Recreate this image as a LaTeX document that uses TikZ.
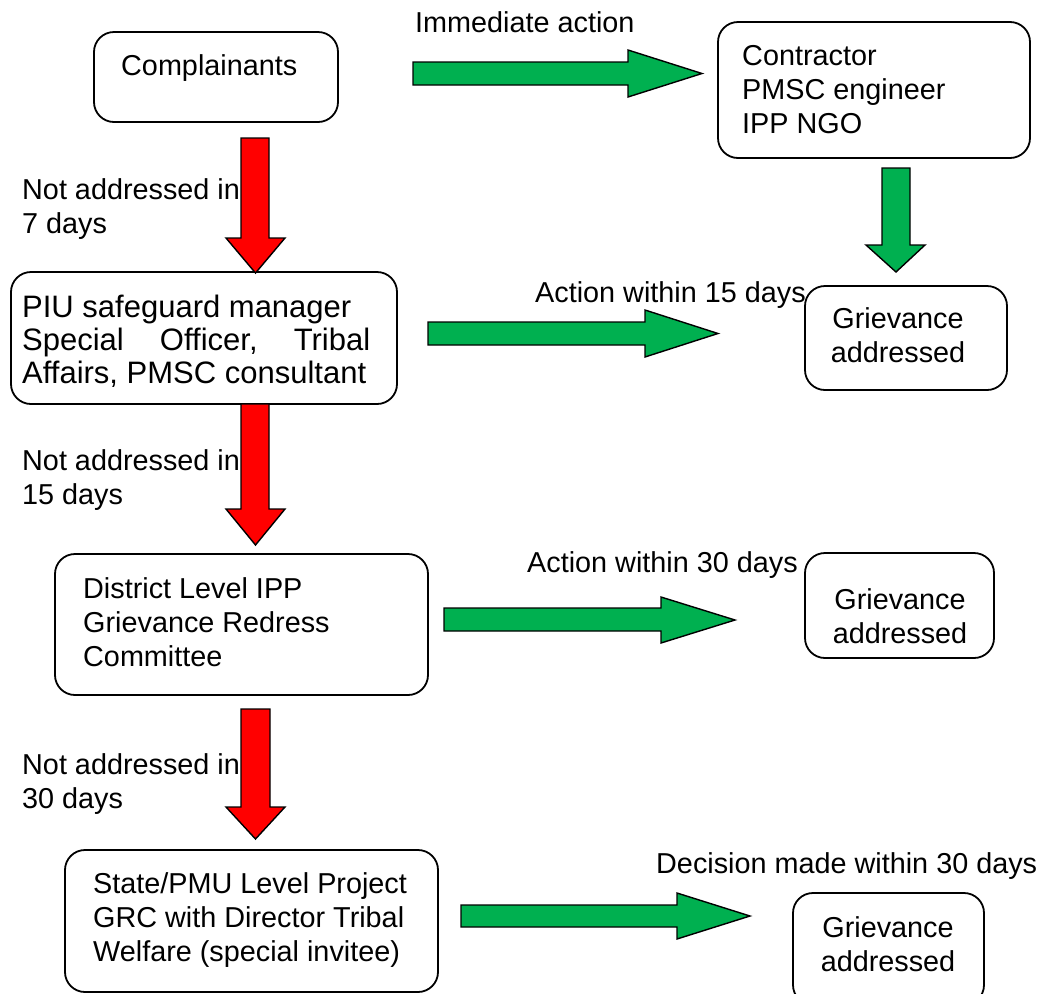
\documentclass[tikz,border=0pt]{standalone}
\usepackage{fontspec}
\setmainfont{Liberation Sans}
\definecolor{arrowgreen}{HTML}{00B050}
\definecolor{arrowred}{HTML}{FF0000}
\begin{document}
\begin{tikzpicture}[x=1pt,y=-1pt,
  box/.style={draw=black, fill=white, line width=1.8pt, rounded corners=20pt, inner sep=0pt},
  % multi-line texts are placed by the baseline of their last line
  txt/.style={font=\fontsize{28.8}{34}\selectfont, inner sep=0pt, align=left, anchor=base west},
  ctxt/.style={font=\fontsize{28.8}{34}\selectfont, inner sep=0pt, align=center, anchor=base},
  garrow/.style={fill=arrowgreen, draw=black, line width=1.4pt, line join=miter},
  rarrow/.style={fill=arrowred, draw=black, line width=1.4pt, line join=miter}]
\useasboundingbox (0,0) rectangle (1045,994);

% labels beside the arrows (drawn first, boxes and arrows overlap them)
\node[txt] (lab1) at (22,233) {Not addressed in\\7 days};
\node[txt] (lab2) at (22,504) {Not addressed in\\15 days};
\node[txt] (lab3) at (22,808) {Not addressed in\\30 days};
\node[txt] (act0) at (415,32) {Immediate action};
\node[txt] (act1) at (535,302) {Action within 15 days};
\node[txt] (act2) at (527,572) {Action within 30 days};
\node[txt] (act3) at (656,873) {Decision made within 30 days};

% boxes
\node[box, minimum width=244pt, minimum height=90pt] (cmp) at (216,77) {};
\node[box, minimum width=312pt, minimum height=136pt] (ctr) at (874,90) {};
\node[box, minimum width=386pt, minimum height=132pt] (piu) at (204,338) {};
\node[box, minimum width=202pt, minimum height=104pt] (g1) at (906,338) {};
\node[box, minimum width=373pt, minimum height=141pt] (dis) at (241.5,624.5) {};
\node[box, minimum width=189pt, minimum height=105pt] (g2) at (899.5,605.5) {};
\node[box, minimum width=373pt, minimum height=142pt] (sta) at (251.5,921) {};
\node[box, minimum width=191pt, minimum height=112pt] (g3) at (888.5,949) {};

% box texts
\node[txt] (cmpt) at (121,75) {Complainants};
\node[txt] (ctrt) at (742,133) {Contractor\\PMSC engineer\\IPP NGO};
\node[txt, font=\fontsize{31}{33}\selectfont] (piut) at (22,383)
  {PIU safeguard manager\\\hbox to 348pt{Special\hfill\ Officer,\hfill\ Tribal}\\Affairs, PMSC consultant};
\node[ctxt] (g1t) at (898,362) {Grievance\\addressed};
\node[txt] (dist) at (83,666) {District Level IPP\\Grievance Redress\\Committee};
\node[ctxt] (g2t) at (900,643) {Grievance\\addressed};
\node[txt] (stat) at (93,961) {State/PMU Level Project\\GRC with Director Tribal\\Welfare (special invitee)};
\node[ctxt] (g3t) at (888,971) {Grievance\\addressed};

% green block arrows
\draw[garrow] (413,62) -- (628,62) -- (628,50) -- (702,73.5) -- (628,97) -- (628,85) -- (413,85) -- cycle;
\draw[garrow] (428,322) -- (645,322) -- (645,310) -- (718,333.5) -- (645,357) -- (645,345) -- (428,345) -- cycle;
\draw[garrow] (444,608) -- (661,608) -- (661,597) -- (735,620) -- (661,643) -- (661,631) -- (444,631) -- cycle;
\draw[garrow] (461,905) -- (677,905) -- (677,893) -- (750,916) -- (677,939) -- (677,927) -- (461,927) -- cycle;
\draw[garrow] (882,168) -- (910,168) -- (910,245) -- (925,245) -- (896,272) -- (866,245) -- (882,245) -- cycle;

% red block arrows
\draw[rarrow] (241,138) -- (269,138) -- (269,238) -- (285,238) -- (255.5,273) -- (226,238) -- (241,238) -- cycle;
\draw[rarrow] (241,404) -- (269,404) -- (269,509) -- (285,509) -- (255.5,545) -- (226,509) -- (241,509) -- cycle;
\draw[rarrow] (241,709) -- (270,709) -- (270,807) -- (285,807) -- (255.5,839) -- (226,807) -- (241,807) -- cycle;
\end{tikzpicture}
\end{document}
